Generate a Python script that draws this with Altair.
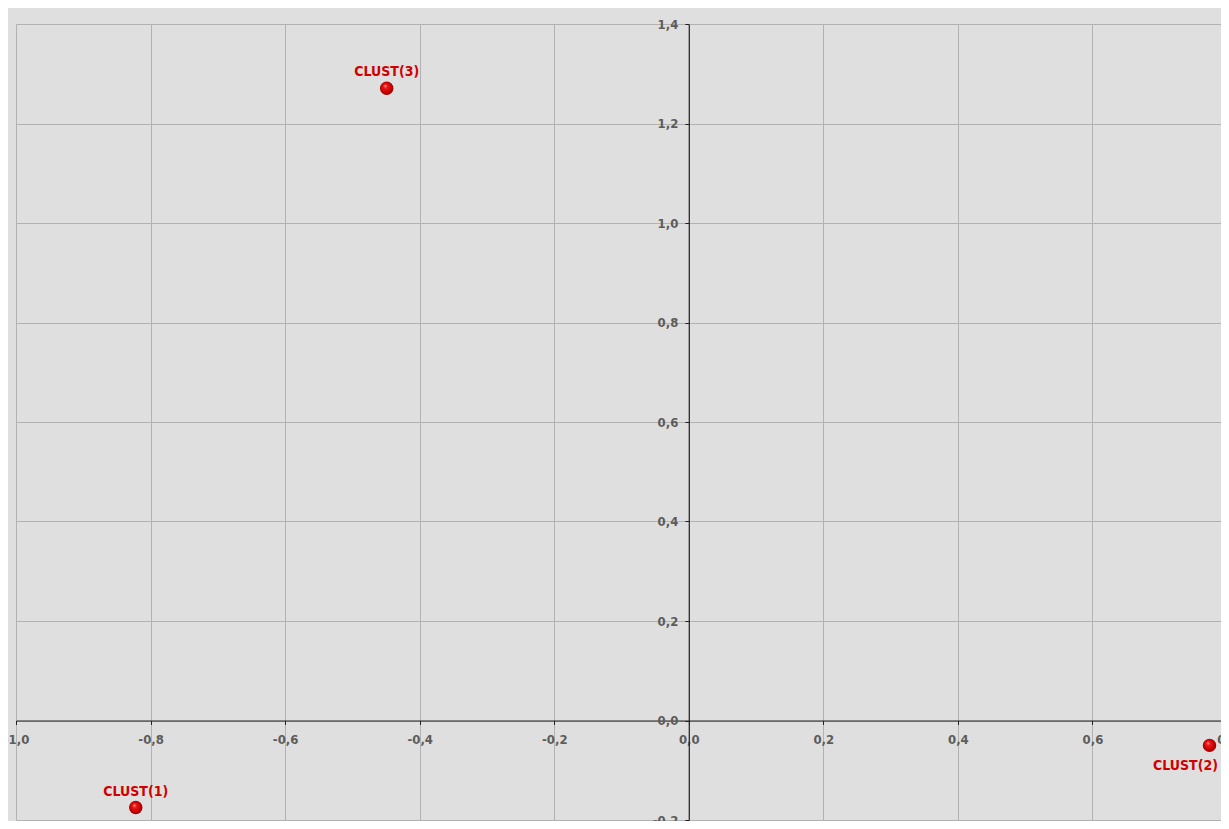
import altair as alt
import pandas as pd

# data
names = ["CLUST(1)", "CLUST(2)", "CLUST(3)"]
xs = [-0.822, 0.774, -0.449]
ys = [-0.175, -0.050, 1.271]
label_pos = ["above", "below", "above"]

x_ticks = [-1.0, -0.8, -0.6, -0.4, -0.2, 0.0, 0.2, 0.4, 0.6, 0.8]
y_ticks = [-0.2, 0.0, 0.2, 0.4, 0.6, 0.8, 1.0, 1.2, 1.4]
x_dom = [-1.0, 0.8]
y_dom = [-0.2, 1.4]

df = pd.DataFrame({"name": names, "x": xs, "y": ys, "pos": label_pos})

W = 1211
H = 796
x_off = -W * (0 - x_dom[0]) / (x_dom[1] - x_dom[0])
y_off = -H * (0 - y_dom[0]) / (y_dom[1] - y_dom[0])

lab = "replace(replace(format(datum.value, '.1f'), '.', ','), '\u2212', '-')"
axis_font = dict(labelFont="DejaVu Sans Condensed", labelFontSize=13, labelFontWeight="bold",
                 labelColor="#5c5c5c", gridColor="#b2b2b2", gridWidth=1, gridOpacity=1,
                 domainColor="#222222", domainWidth=1.2, tickColor="#222222", tickSize=4,
                 labelOverlap=False, labelFlush=False, title=None, labelExpr=lab)

xenc = alt.X("x:Q", scale=alt.Scale(domain=x_dom, nice=False, zero=False),
             axis=alt.Axis(values=x_ticks, orient="bottom", offset=y_off, labelPadding=9,
                           **axis_font))
yenc = alt.Y("y:Q", scale=alt.Scale(domain=y_dom, nice=False, zero=False),
             axis=alt.Axis(values=y_ticks, orient="left", offset=x_off, labelPadding=7,
                           labelBaseline="middle", **axis_font))

grad = {
    "gradient": "radial",
    "x1": 0.38, "y1": 0.32, "r1": 0.0,
    "x2": 0.5, "y2": 0.5, "r2": 0.55,
    "stops": [
        {"offset": 0.0, "color": "#ffb0b0"},
        {"offset": 0.25, "color": "#f01818"},
        {"offset": 0.75, "color": "#c00000"},
        {"offset": 1.0, "color": "#800000"},
    ],
}

base = alt.Chart(df)

pts = base.mark_point(filled=True, fill=grad, opacity=1, size=180, shape="circle",
                      strokeWidth=0).encode(x=xenc, y=yenc)

txt_style = dict(font="DejaVu Sans Condensed", fontSize=14, fontWeight="bold",
                 color="#d00000", baseline="middle", align="center")
above = base.transform_filter("datum.pos == 'above'").mark_text(dy=-16, **txt_style).encode(
    x="x:Q", y="y:Q", text="name:N")
below = base.transform_filter("datum.pos == 'below'").mark_text(dy=21, dx=-24, **txt_style).encode(
    x="x:Q", y="y:Q", text="name:N")

chart = alt.layer(pts, above, below).properties(
    width=W, height=H,
    padding={"left": 8, "top": 16, "right": -6, "bottom": 1},
    autosize=alt.AutoSizeParams(type="none"),
    background="#dfdfdf",
).configure_view(stroke=None, fill="#dfdfdf")

chart.save("out.html", embed_options={"renderer": "svg", "actions": False})
